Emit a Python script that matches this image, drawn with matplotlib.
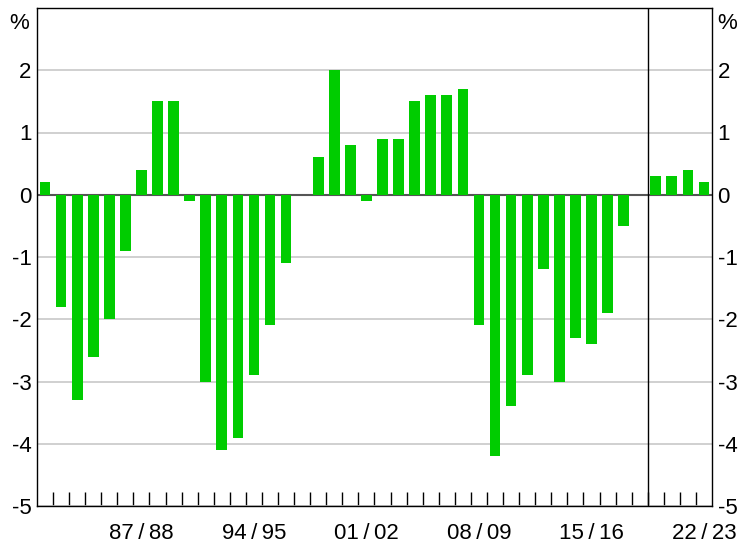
import numpy as np
import matplotlib.pyplot as plt

plt.rcParams['font.family'] = ['Liberation Sans', 'DejaVu Sans']
plt.rcParams['axes.unicode_minus'] = False

years = [f"{y % 100:02d}/{(y + 1) % 100:02d}" for y in range(1981, 2023)]
values = [0.2, -1.8, -3.3, -2.6, -2.0, -0.9, 0.4, 1.5, 1.5, -0.1,
          -3.0, -4.1, -3.9, -2.9, -2.1, -1.1, 0.0, 0.6, 2.0, 0.8,
          -0.1, 0.9, 0.9, 1.5, 1.6, 1.6, 1.7, -2.1, -4.2, -3.4,
          -2.9, -1.2, -3.0, -2.3, -2.4, -1.9, -0.5, 0.0, 0.3, 0.3,
          0.4, 0.2]
labelled = ["87/88", "94/95", "01/02", "08/09", "15/16", "22/23"]
forecast_start = "19/20"

fig = plt.figure(figsize=(7.41, 5.44), dpi=100)
ax = fig.add_axes([37 / 741, 1 - 506 / 544, 675 / 741, 498 / 544])

x = np.arange(len(values))
ax.bar(x, values, width=0.67, color='#00cc00', zorder=3)

ax.set_xlim(-0.5, len(values) - 0.5)
ax.set_ylim(-5, 3)
ax.set_yticks(range(-5, 3))
ax.grid(axis='y', color='#c8c8c8', lw=1.2, zorder=1)
ax.axhline(0, color='#555555', lw=1.5, zorder=2)
ax.axvline(years.index(forecast_start) - 0.5, color='black', lw=1, zorder=4)

ax.tick_params(axis='y', length=0, labelsize=16, labelleft=True, labelright=True, pad=4)
ax.set_xticks(x[:-1] + 0.5, minor=True)
ax.tick_params(axis='x', which='minor', direction='in', length=10, width=1, color='black')
ax.set_xticks([years.index(l) for l in labelled])
ax.set_xticklabels([l.replace("/", "\u2009/\u2009") for l in labelled])
ax.tick_params(axis='x', which='major', length=0, labelsize=16, pad=12)

for s in ax.spines.values():
    s.set_color('black')
    s.set_linewidth(1)

ax.text(-0.012, 0.968, "%", transform=ax.transAxes, ha='right', va='center', fontsize=16)
ax.text(1.008, 0.968, "%", transform=ax.transAxes, ha='left', va='center', fontsize=16)

fig.savefig("out.png", dpi=100)
